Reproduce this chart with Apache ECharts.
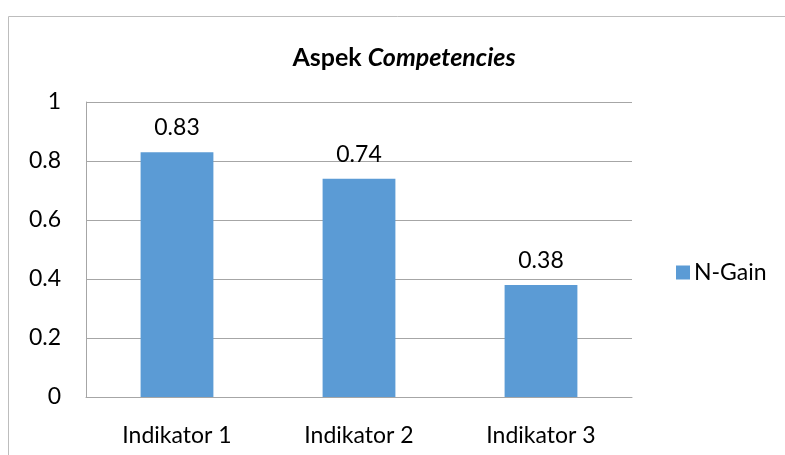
<!DOCTYPE html>
<html><head><meta charset="utf-8">
<script src="https://cdn.jsdelivr.net/npm/echarts@6/dist/echarts.min.js"></script>
<style>html,body{margin:0;padding:0;background:#fff}#c{width:785px;height:455px}</style>
</head><body><div id="c"></div>
<script>
const categories = ['Indikator 1', 'Indikator 2', 'Indikator 3'];
const nGain = [0.83, 0.74, 0.38];
const yTicks = [0, 0.2, 0.4, 0.6, 0.8, 1];
const seriesName = 'N-Gain';
const FONT = 'Lato, "Open Sans", sans-serif';

const chart = echarts.init(document.getElementById('c'), null, {renderer: 'canvas'});
chart.setOption({
  animation: false,
  graphic: [{type: 'rect', shape: {x: 8.5, y: 16.5, width: 800, height: 500},
    style: {fill: 'none', stroke: '#bdbdbd', lineWidth: 1}}],
  title: {
    text: '{b|Aspek }{i|Competencies}', left: 399, top: 40, textAlign: 'center',
    textStyle: {rich: {
      b: {fontFamily: FONT, fontWeight: 'bold', fontSize: 25, color: '#000'},
      i: {fontFamily: FONT, fontWeight: 'bold', fontStyle: 'italic', fontSize: 25, color: '#000'}
    }}
  },
  legend: {
    data: [seriesName], left: 671, top: 256, itemWidth: 14, itemHeight: 14, itemGap: 4,
    icon: 'rect', textStyle: {fontFamily: FONT, fontSize: 23, color: '#000', padding: [0,0,0,-1]}
  },
  grid: {left: 86, top: 102, width: 546, height: 295, containLabel: false},
  xAxis: {
    type: 'category', data: categories,
    axisLine: {lineStyle: {color: '#a6a6a6'}}, axisTick: {show: false},
    axisLabel: {fontFamily: FONT, fontSize: 23, color: '#000', margin: 27}
  },
  yAxis: {
    type: 'value', min: yTicks[0], max: yTicks[yTicks.length-1], interval: 0.2,
    axisLine: {show: true, lineStyle: {color: '#a6a6a6'}}, axisTick: {show: false},
    splitLine: {lineStyle: {color: '#a6a6a6'}},
    axisLabel: {fontFamily: FONT, fontSize: 23, color: '#000', margin: 25,
      formatter: v => String(+v.toFixed(1))}
  },
  series: [{
    name: seriesName, type: 'bar', data: nGain, barWidth: '40%',
    itemStyle: {color: '#5b9bd5'},
    label: {show: true, position: 'top', distance: 13, fontFamily: FONT, fontSize: 23, color: '#000'}
  }]
});
</script></body></html>
